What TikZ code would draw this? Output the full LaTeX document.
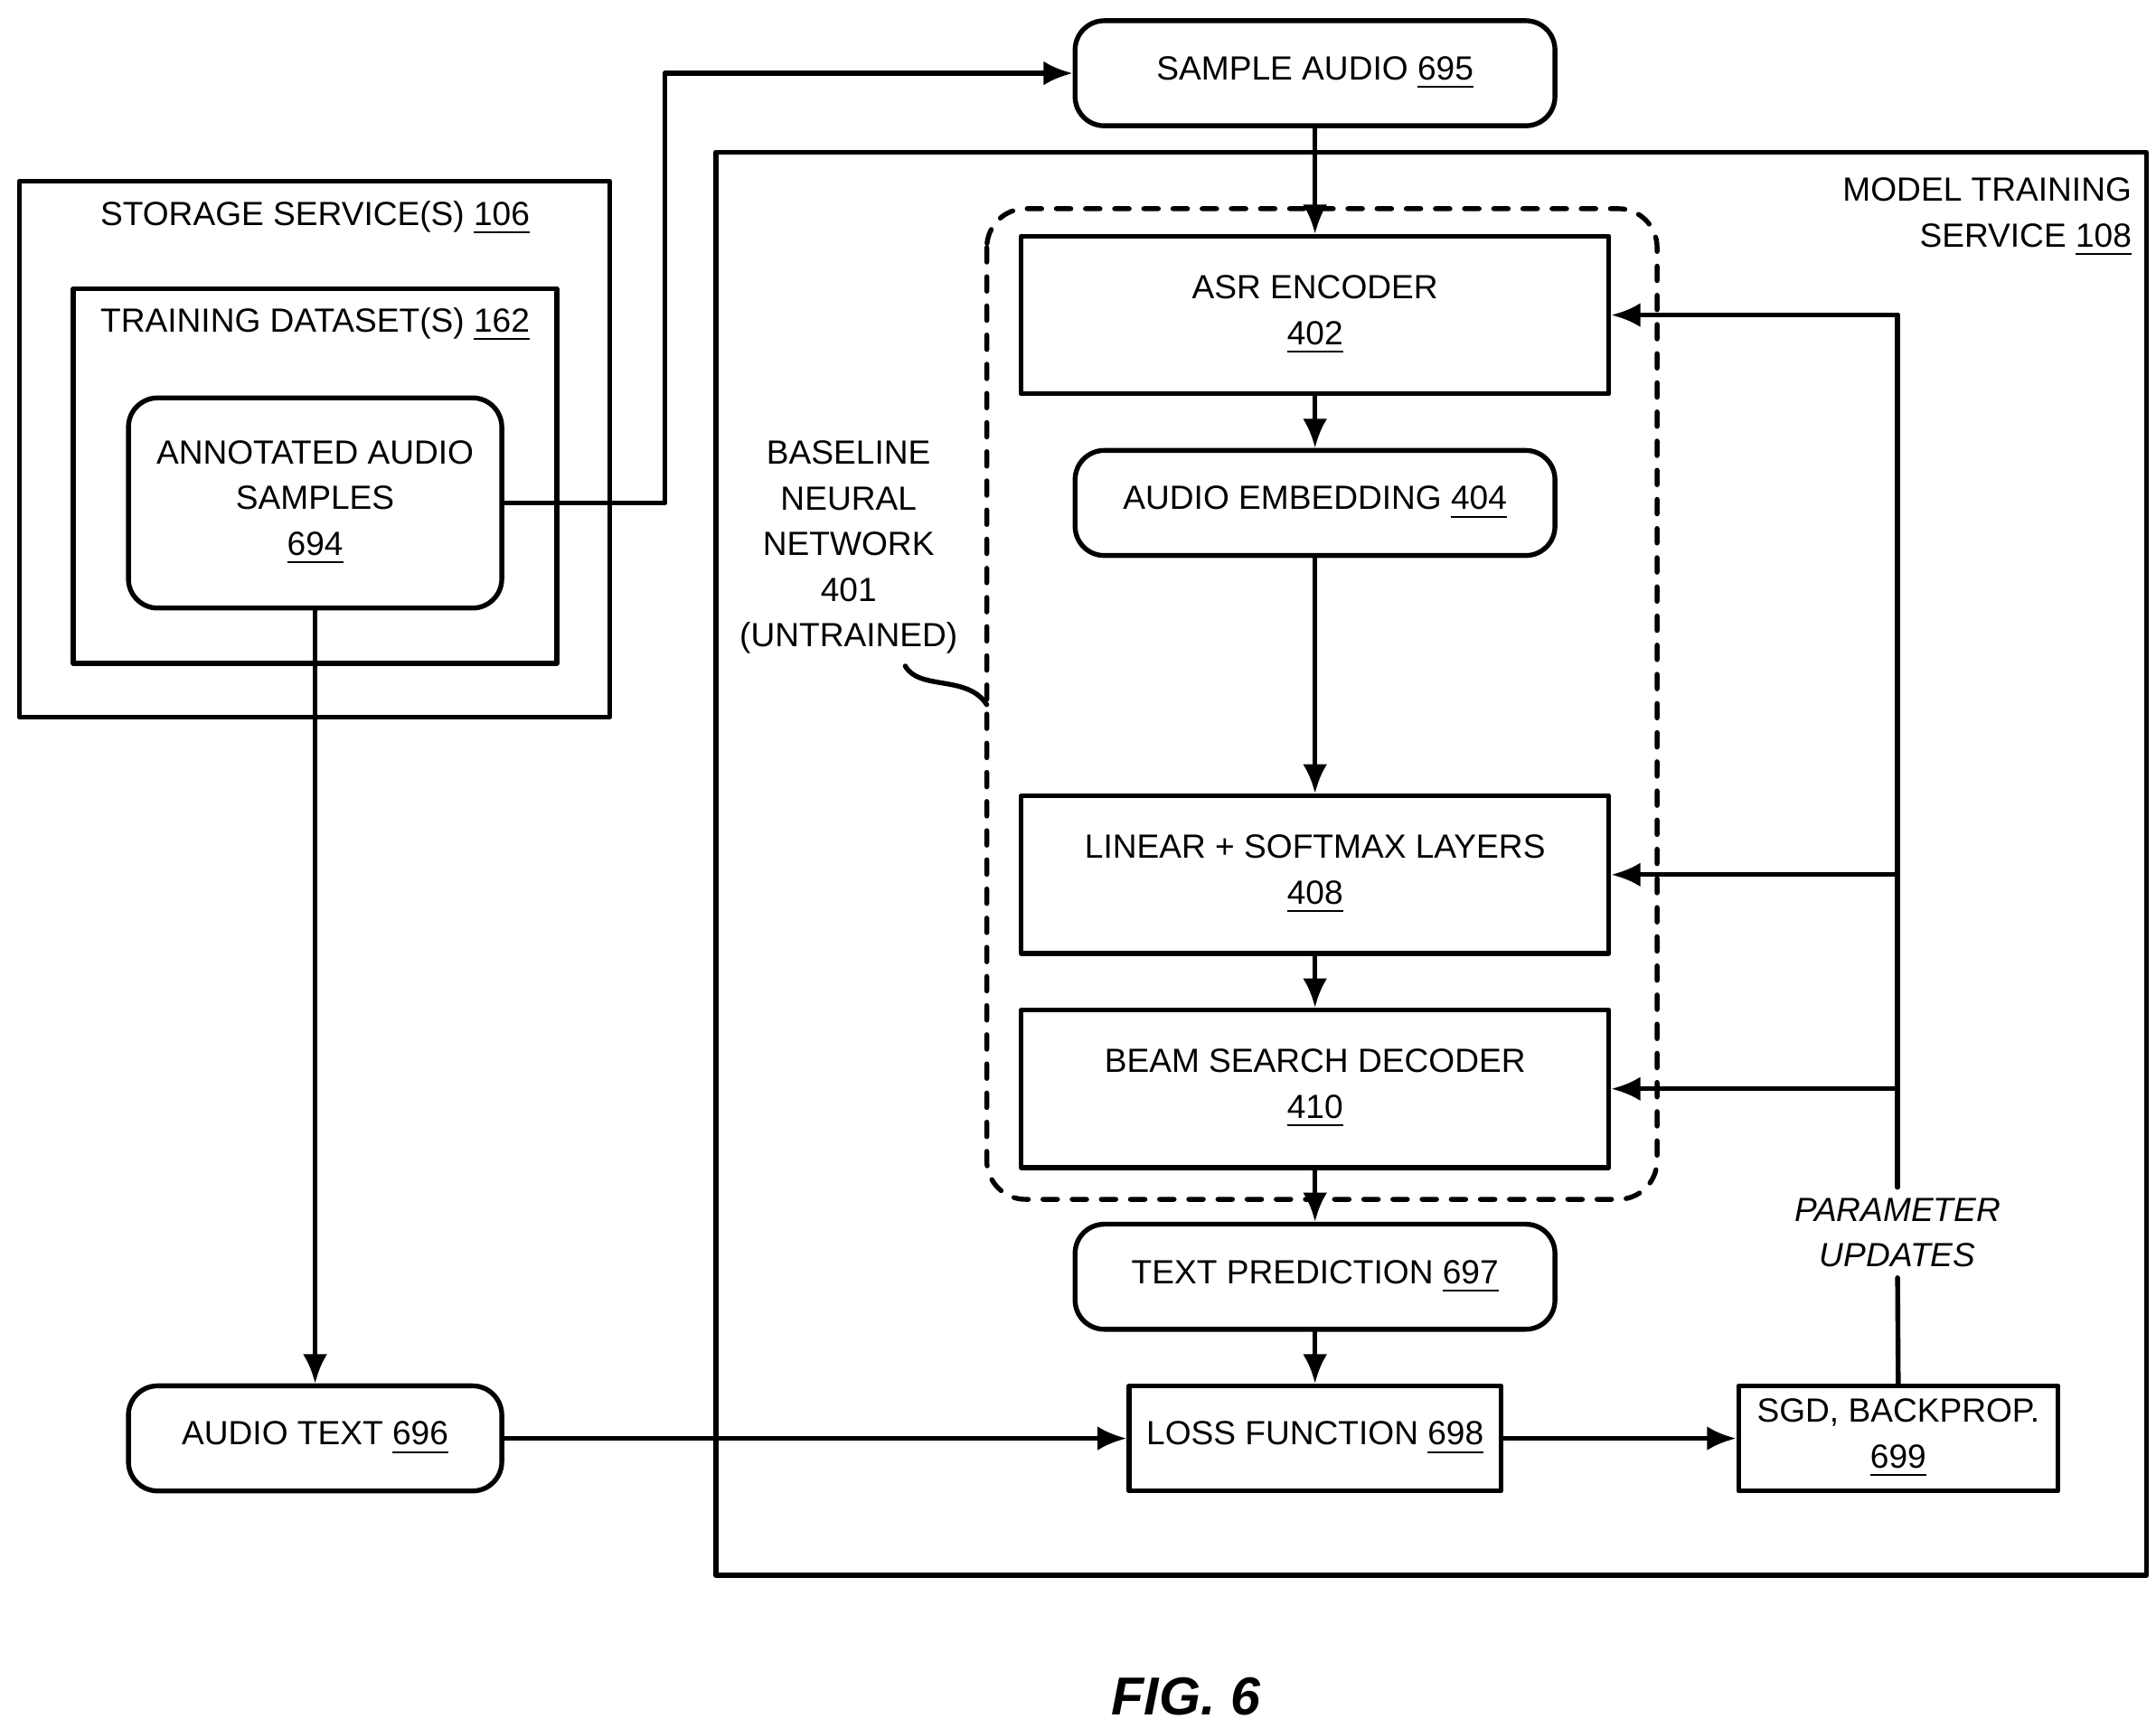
\documentclass[tikz,border=0pt]{standalone}
\usepackage{fontspec}
\setmainfont{Liberation Sans}
\usetikzlibrary{arrows.meta,positioning}
\tikzset{
  box/.style={draw, line width=1pt, align=center, inner sep=0pt},
  rbox/.style={box, rounded corners=6pt},
  lbl/.style={align=center, inner sep=0pt},
  flow/.style={line width=1pt, -{Latex[length=6pt,width=5pt]}},
  wire/.style={line width=1pt}
}
\newcommand{\un}[1]{\underline{#1}}
\begin{document}
\begin{tikzpicture}[x=0.01cm, y=-0.01cm, font=\fontsize{6.9}{9.4}\selectfont,
      line cap=round, line join=round]
  \useasboundingbox (0,0) rectangle (1560,1250);
  % storage side
  \draw[wire] (14,131) rectangle (441,519);
  \node[lbl] at (228,158) {STORAGE SERVICE(S) \un{106}};
  \draw[wire] (53,209) rectangle (403,480);
  \node[lbl] at (228,235) {TRAINING DATASET(S) \un{162}};
  \node[rbox, minimum width=2.7cm, minimum height=1.52cm] (annot) at (228,364)
    {ANNOTATED AUDIO\\SAMPLES\\\un{694}};
  \node[rbox, minimum width=2.7cm, minimum height=0.76cm] (audiotext) at (228,1041) {AUDIO TEXT \un{696}};
  % model training service
  \draw[wire] (518,110) rectangle (1553,1140);
  \node[lbl, align=right, anchor=north east] at (1543,128) {MODEL TRAINING\\SERVICE \un{108}};
  \node[rbox, minimum width=3.47cm, minimum height=0.76cm] (sample) at (951.5,53) {SAMPLE AUDIO \un{695}};
  \draw[line width=1pt, dashed, rounded corners=8pt] (714,151) rectangle (1199,868);
  \node[lbl] (base) at (614,396) {BASELINE\\NEURAL\\NETWORK\\401\\(UNTRAINED)};
  \draw[wire] (655,482) .. controls (665,500) and (700,488) .. (714,510);
  \node[box, minimum width=4.25cm, minimum height=1.14cm] (asr) at (951.5,228) {ASR ENCODER\\\un{402}};
  \node[rbox, minimum width=3.47cm, minimum height=0.76cm] (embed) at (951.5,364) {AUDIO EMBEDDING \un{404}};
  \node[box, minimum width=4.25cm, minimum height=1.14cm] (linear) at (951.5,633) {LINEAR + SOFTMAX LAYERS\\\un{408}};
  \node[box, minimum width=4.25cm, minimum height=1.14cm] (beam) at (951.5,788) {BEAM SEARCH DECODER\\\un{410}};
  \node[rbox, minimum width=3.47cm, minimum height=0.76cm] (pred) at (951.5,924) {TEXT PREDICTION \un{697}};
  \node[box, minimum width=2.69cm, minimum height=0.76cm] (loss) at (951.5,1041) {LOSS FUNCTION \un{698}};
  \node[box, minimum width=2.31cm, minimum height=0.76cm] (sgd) at (1373.5,1041) {SGD, BACKPROP.\\\un{699}};
  \node[lbl, font=\fontsize{6.9}{9.4}\selectfont\itshape] (param) at (1373,892) {PARAMETER\\UPDATES};
  \coordinate (top) at (1373,228);
  % connectors
  \draw[flow] (annot.east) -| (481,53) -- (sample.west);
  \draw[flow] (annot.south) -- (audiotext.north);
  \draw[flow] (audiotext) -- (loss);
  \draw[flow] (loss) -- (sgd);
  \draw[flow] (sample) -- (asr);
  \draw[flow] (asr) -- (embed);
  \draw[flow] (embed) -- (linear);
  \draw[flow] (linear) -- (beam);
  \draw[flow] (beam) -- (pred);
  \draw[flow] (pred) -- (loss);
  \draw[wire] (sgd.north) -- ([yshift=-2pt]param.south);
  \draw[wire] ([yshift=2pt]param.north) -- (top);
  \draw[flow] (top) -- (asr.east);
  \draw[flow] (1373,633) -- (linear.east);
  \draw[flow] (1373,788) -- (beam.east);
  \node[lbl, font=\fontsize{11}{13}\selectfont\bfseries\itshape] (fig) at (858,1228) {FIG. 6};
\end{tikzpicture}
\end{document}
